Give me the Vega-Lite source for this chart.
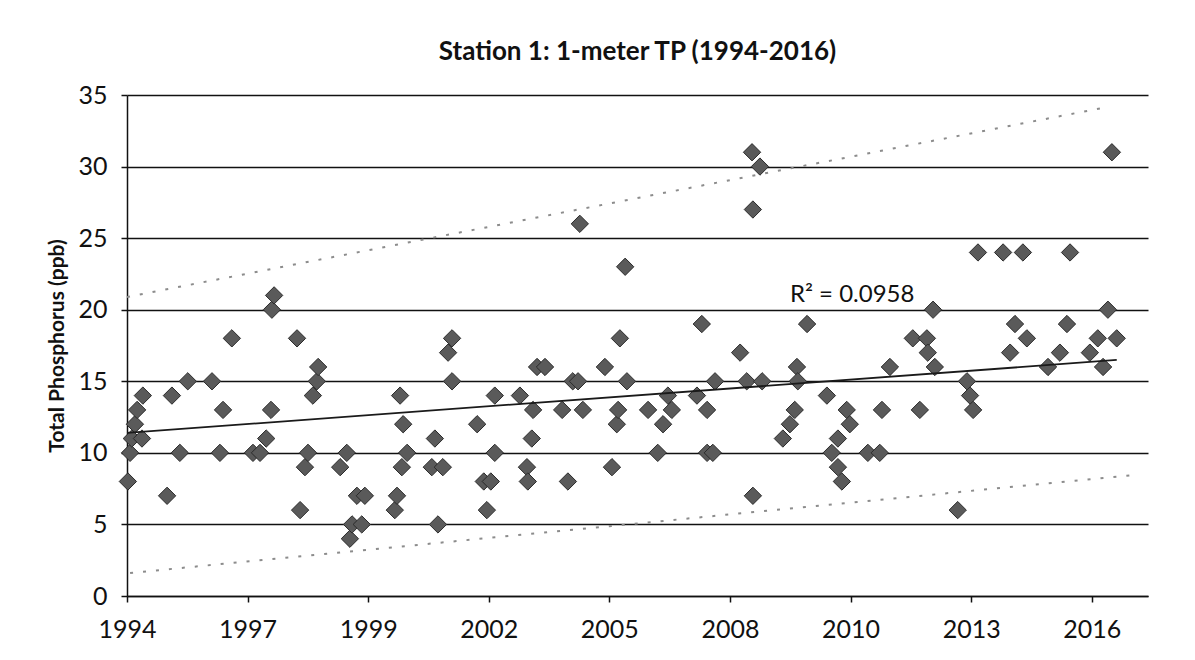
{
  "$schema": "https://vega.github.io/schema/vega-lite/v6.json",
  "width": 1021,
  "height": 501,
  "autosize": "none",
  "padding": {"left": 127, "top": 95, "right": 47, "bottom": 64},
  "background": "white",
  "title": {"text": "Station 1: 1-meter TP (1994-2016)", "font": "Lato", "fontSize": 26, "fontWeight": "bold", "color": "#111111", "offset": 18, "anchor": "middle"},
  "datasets": {
    "samples": [
      {"year": 1994.42, "tp": 8}, {"year": 1994.47, "tp": 10}, {"year": 1994.51, "tp": 11}, {"year": 1994.58, "tp": 12},
      {"year": 1994.63, "tp": 13}, {"year": 1994.74, "tp": 11}, {"year": 1994.76, "tp": 14}, {"year": 1995.31, "tp": 7},
      {"year": 1995.42, "tp": 14}, {"year": 1995.60, "tp": 10}, {"year": 1995.78, "tp": 15}, {"year": 1996.33, "tp": 15},
      {"year": 1996.51, "tp": 10}, {"year": 1996.58, "tp": 13}, {"year": 1996.78, "tp": 18}, {"year": 1997.26, "tp": 10},
      {"year": 1997.42, "tp": 10}, {"year": 1997.56, "tp": 11}, {"year": 1997.67, "tp": 13}, {"year": 1997.69, "tp": 20},
      {"year": 1997.74, "tp": 21}, {"year": 1998.26, "tp": 18}, {"year": 1998.33, "tp": 6}, {"year": 1998.44, "tp": 9},
      {"year": 1998.51, "tp": 10}, {"year": 1998.62, "tp": 14}, {"year": 1998.71, "tp": 15}, {"year": 1998.74, "tp": 16},
      {"year": 1999.24, "tp": 9}, {"year": 1999.39, "tp": 10}, {"year": 1999.46, "tp": 4}, {"year": 1999.51, "tp": 5},
      {"year": 1999.62, "tp": 7}, {"year": 1999.73, "tp": 5}, {"year": 1999.80, "tp": 7}, {"year": 2000.48, "tp": 6},
      {"year": 2000.53, "tp": 7}, {"year": 2000.60, "tp": 14}, {"year": 2000.64, "tp": 9}, {"year": 2000.67, "tp": 12},
      {"year": 2000.76, "tp": 10}, {"year": 2001.32, "tp": 9}, {"year": 2001.39, "tp": 11}, {"year": 2001.46, "tp": 5},
      {"year": 2001.57, "tp": 9}, {"year": 2001.69, "tp": 17}, {"year": 2001.78, "tp": 18}, {"year": 2001.78, "tp": 15},
      {"year": 2002.35, "tp": 12}, {"year": 2002.50, "tp": 8}, {"year": 2002.57, "tp": 6}, {"year": 2002.66, "tp": 8},
      {"year": 2002.75, "tp": 14}, {"year": 2002.75, "tp": 10}, {"year": 2003.32, "tp": 14}, {"year": 2003.48, "tp": 9},
      {"year": 2003.50, "tp": 8}, {"year": 2003.59, "tp": 11}, {"year": 2003.62, "tp": 13}, {"year": 2003.71, "tp": 16},
      {"year": 2003.89, "tp": 16}, {"year": 2004.28, "tp": 13}, {"year": 2004.41, "tp": 8}, {"year": 2004.52, "tp": 15},
      {"year": 2004.64, "tp": 15}, {"year": 2004.68, "tp": 26}, {"year": 2004.75, "tp": 13}, {"year": 2005.25, "tp": 16},
      {"year": 2005.41, "tp": 9}, {"year": 2005.52, "tp": 12}, {"year": 2005.55, "tp": 13}, {"year": 2005.59, "tp": 18},
      {"year": 2005.71, "tp": 23}, {"year": 2005.75, "tp": 15}, {"year": 2006.23, "tp": 13}, {"year": 2006.45, "tp": 10},
      {"year": 2006.57, "tp": 12}, {"year": 2006.68, "tp": 14}, {"year": 2006.77, "tp": 13}, {"year": 2007.34, "tp": 14},
      {"year": 2007.45, "tp": 19}, {"year": 2007.57, "tp": 13}, {"year": 2007.57, "tp": 10}, {"year": 2007.70, "tp": 10},
      {"year": 2007.75, "tp": 15}, {"year": 2008.32, "tp": 17}, {"year": 2008.47, "tp": 15}, {"year": 2008.59, "tp": 31},
      {"year": 2008.61, "tp": 27}, {"year": 2008.61, "tp": 7}, {"year": 2008.77, "tp": 30}, {"year": 2008.82, "tp": 15},
      {"year": 2009.29, "tp": 11}, {"year": 2009.45, "tp": 12}, {"year": 2009.56, "tp": 13}, {"year": 2009.61, "tp": 16},
      {"year": 2009.63, "tp": 15}, {"year": 2009.84, "tp": 19}, {"year": 2010.29, "tp": 14}, {"year": 2010.40, "tp": 10},
      {"year": 2010.54, "tp": 11}, {"year": 2010.54, "tp": 9}, {"year": 2010.63, "tp": 8}, {"year": 2010.74, "tp": 13},
      {"year": 2010.81, "tp": 12}, {"year": 2011.22, "tp": 10}, {"year": 2011.49, "tp": 10}, {"year": 2011.54, "tp": 13},
      {"year": 2011.72, "tp": 16}, {"year": 2012.24, "tp": 18}, {"year": 2012.40, "tp": 13}, {"year": 2012.56, "tp": 18},
      {"year": 2012.58, "tp": 17}, {"year": 2012.70, "tp": 20}, {"year": 2012.74, "tp": 16}, {"year": 2013.26, "tp": 6},
      {"year": 2013.47, "tp": 15}, {"year": 2013.54, "tp": 14}, {"year": 2013.61, "tp": 13}, {"year": 2013.72, "tp": 24},
      {"year": 2014.29, "tp": 24}, {"year": 2014.45, "tp": 17}, {"year": 2014.56, "tp": 19}, {"year": 2014.74, "tp": 24},
      {"year": 2014.83, "tp": 18}, {"year": 2015.31, "tp": 16}, {"year": 2015.58, "tp": 17}, {"year": 2015.74, "tp": 19},
      {"year": 2015.81, "tp": 24}, {"year": 2016.26, "tp": 17}, {"year": 2016.44, "tp": 18}, {"year": 2016.56, "tp": 16},
      {"year": 2016.67, "tp": 20}, {"year": 2016.76, "tp": 31}, {"year": 2016.87, "tp": 18}
    ],
    "trend": [
      {"year": 1994.40, "tp": 11.39}, {"year": 2016.87, "tp": 16.49}
    ],
    "bounds": [
      {"series": "upper", "year": 1994.40, "tp": 20.89}, {"series": "upper", "year": 2016.67, "tp": 34.17},
      {"series": "lower", "year": 1994.47, "tp": 1.61}, {"series": "lower", "year": 2017.28, "tp": 8.46}
    ],
    "labels": [
      {"year": 2009.45, "tp": 20.55, "label": "R² = 0.0958"}
    ]
  },
  "encoding": {
    "x": {
      "field": "year", "type": "quantitative",
      "scale": {"domain": [1994.40, 2017.58], "nice": false, "zero": false},
      "axis": {
        "values": [1994.40, 1997.1379, 1999.8757, 2002.6136, 2005.3514, 2008.0893, 2010.8271, 2013.565, 2016.3028],
        "labelExpr": "floor(datum.value)",
        "grid": false, "title": null,
        "domainColor": "#111111", "domainWidth": 1.5,
        "tickColor": "#111111", "tickSize": 6, "tickWidth": 1.5,
        "labelFont": "Lato", "labelFontSize": 25, "labelColor": "#111111", "labelPadding": 15, "labelFlush": false
      }
    },
    "y": {
      "field": "tp", "type": "quantitative",
      "scale": {"domain": [0, 35], "nice": false, "zero": true},
      "axis": {
        "values": [0, 5, 10, 15, 20, 25, 30, 35],
        "grid": true, "gridColor": "#111111", "gridWidth": 1.5,
        "domainColor": "#111111", "domainWidth": 1.5,
        "tickColor": "#111111", "tickSize": 6, "tickWidth": 1.5,
        "labelFont": "Lato", "labelFontSize": 25, "labelColor": "#111111", "labelPadding": 14,
        "title": "Total Phosphorus (ppb)", "titleFont": "Lato", "titleFontSize": 21, "titleFontWeight": "bold", "titleColor": "#111111", "titlePadding": 10
      }
    }
  },
  "layer": [
    {
      "data": {"name": "samples"},
      "mark": {"type": "point", "shape": "diamond", "filled": true, "size": 300, "fill": "#5a5a5a", "stroke": "#2b2b2b", "strokeWidth": 1, "opacity": 1}
    },
    {
      "data": {"name": "bounds"},
      "mark": {"type": "line", "color": "#8c8c8c", "strokeWidth": 2, "strokeDash": [3, 10]},
      "encoding": {"detail": {"field": "series"}}
    },
    {
      "data": {"name": "trend"},
      "mark": {"type": "line", "color": "#1a1a1a", "strokeWidth": 1.8}
    },
    {
      "data": {"name": "labels"},
      "mark": {"type": "text", "align": "left", "baseline": "alphabetic", "font": "Lato", "fontSize": 24, "color": "#111111"},
      "encoding": {"text": {"field": "label"}}
    }
  ],
  "config": {"view": {"stroke": null}}
}
